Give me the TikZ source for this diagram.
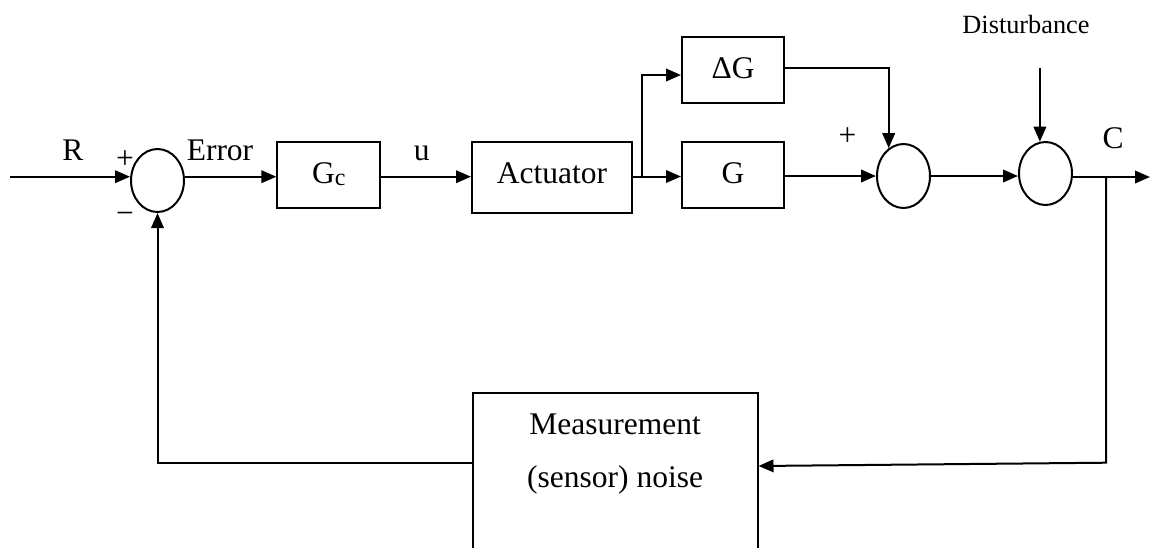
\documentclass[tikz,border=0pt]{standalone}
\usepackage{fontspec}
\setmainfont{Liberation Serif}
\usetikzlibrary{arrows.meta,shapes.geometric}
\begin{document}
\begin{tikzpicture}[x=1pt,y=-1pt,line width=2pt,
  blk/.style={draw,rectangle,inner sep=0pt,text height=20pt,text depth=4pt,
    font=\fontsize{31.5}{37}\selectfont},
  sumj/.style={draw,ellipse,inner sep=0pt,minimum width=53pt,minimum height=63pt},
  lbl/.style={anchor=base,inner sep=0pt,font=\fontsize{31.5}{37}\selectfont},
  sgn/.style={inner sep=0pt,font=\fontsize{31.5}{37}\selectfont},
  sig/.style={-{Triangle[length=15pt,width=12.5pt]}}]
\useasboundingbox (0,0) rectangle (1151,547);
\clip (0,0) rectangle (1151,547);

% blocks
\node[sumj] (s1) at (157.5,180.5) {};
\node[blk,minimum width=102.7pt,minimum height=66pt] (gc) at (328.7,175.3)
  {G\raisebox{-2pt}{\fontsize{24}{24}\selectfont c}};
\node[blk,minimum width=160pt,minimum height=71pt,text depth=8.4pt] (act) at (552,177.5) {Actuator};
\node[blk,minimum width=102pt,minimum height=65.4pt] (dg) at (733,70) {ΔG};
\node[blk,minimum width=102pt,minimum height=66pt] (g) at (733,175) {G};
\node[sumj,minimum height=64pt] (s2) at (903.5,176) {};
\node[sumj] (s3) at (1045.5,173.5) {};
\node[draw,rectangle,inner sep=0pt,minimum width=284.8pt,align=center,
  text height=94.7pt,text depth=85pt,font=\fontsize{31.5}{53}\selectfont]
  (meas) at (615.1,483) {Measurement\\(sensor) noise};

% labels
\node[lbl] (rl) at (73,160) {R};
\node[sgn] (p1) at (125,160) {+};
\node[sgn] (m1) at (125,218.3) {−};
\node[lbl] (el) at (220,160) {Error};
\node[lbl] (ul) at (421.7,160) {u};
\node[sgn] (p2) at (847.5,136.7) {+};
\node[lbl] (cl) at (1113,148.3) {C};
\node[anchor=base,inner sep=0pt,font=\fontsize{26.3}{30}\selectfont] (dl) at (1026,33.3) {Disturbance};

% coordinates
\coordinate (in) at (10,176.7);
\coordinate (br) at (642,176.5);
\coordinate (dtop) at (1040,68);
\coordinate (out) at (1150,177);
\coordinate (cb) at (1106,177);
\coordinate (cc) at (1106,462.7);
\coordinate (mfb) at (0,466);
\coordinate (fb) at (0,462.7);

% connectors
\draw[sig] (in) -- (in -| s1.west);
\draw[sig] (s1.east |- in) -- (gc.west |- in);
\draw[sig] (gc.east |- in) -- (act.west |- in);
\draw (act.east |- br) -- (br);
\draw[sig] (br) -- (g.west |- br);
\draw[sig] (br) |- ([yshift=-5pt]dg.west);
\draw[sig] ([yshift=2.3pt]dg.east) -| (s2.118);
\draw[sig] (g.east |- s2.west) -- (s2.west);
\draw[sig] (s2.east) -- (s3.west |- s2.east);
\draw[sig] (s3.100 |- dtop) -- (s3.100);
\draw[sig] (s3.east |- out) -- (out);
\draw[sig] (cb) -- (cc) -- (meas.east |- mfb);
\draw[sig] (meas.west |- fb) -| (s1.south);
\end{tikzpicture}
\end{document}
